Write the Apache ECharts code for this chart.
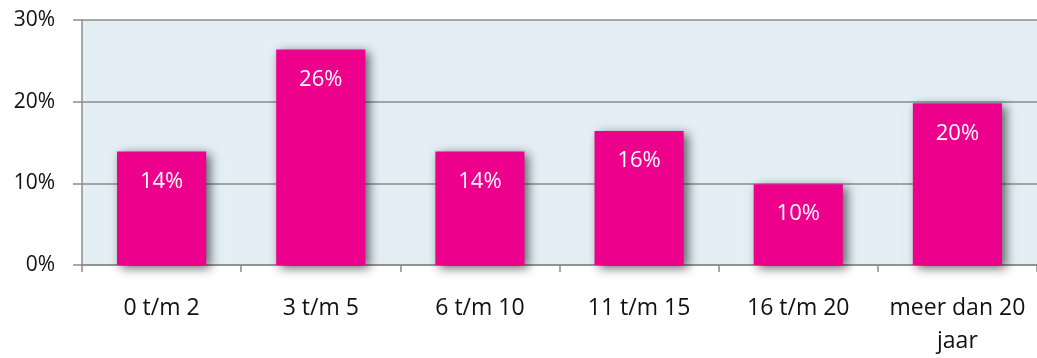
<!DOCTYPE html>
<html>
<head>
<meta charset="utf-8">
<script src="https://cdn.jsdelivr.net/npm/echarts@6/dist/echarts.min.js"></script>
<style>
  html, body { margin: 0; padding: 0; background: #fff; overflow: hidden; }
  #chart { width: 1037px; height: 358px; }
</style>
</head>
<body>
<div id="chart"></div>
<script>
const categories = ['0 t/m 2', '3 t/m 5', '6 t/m 10', '11 t/m 15', '16 t/m 20', 'meer dan 20\njaar']
const shares = [13.9, 26.4, 13.9, 16.4, 9.9, 19.8]
const shareLabels = ['14%', '26%', '14%', '16%', '10%', '20%']
const yTicks = [0, 10, 20, 30]

const font = '"Open Sans", "Liberation Sans", sans-serif'
const grey = '#8c8c8c'

const chart = echarts.init(document.getElementById('chart'), undefined, { renderer: 'canvas' })

chart.setOption({
  animation: false,
  grid: {
    left: 82, right: -5, top: 20, height: 248,
    show: true,
    backgroundColor: '#e3eef5',
    borderWidth: 0,
  },
  xAxis: {
    type: 'category',
    data: categories,
    axisLine: { lineStyle: { color: grey, width: 1.5 } },
    axisTick: { show: true, length: 7, lineStyle: { color: grey, width: 1.5 } },
    axisLabel: {
      color: '#111', fontSize: 23, fontFamily: font,
      margin: 27, lineHeight: 33, interval: 0,
    },
  },
  yAxis: {
    type: 'value',
    min: yTicks[0],
    max: yTicks[yTicks.length - 1],
    interval: 10,
    axisLine: { show: true, lineStyle: { color: grey, width: 1.5 } },
    axisTick: { show: true, length: 9, lineStyle: { color: grey, width: 1.5 } },
    splitLine: { lineStyle: { color: grey, width: 1.5 } },
    axisLabel: {
      color: '#111', fontSize: 21, fontFamily: font, margin: 27,
      formatter: v => v + '%',
    },
  },
  series: [{
    type: 'bar',
    data: shares,
    barCategoryGap: '44%',
    itemStyle: {
      color: '#ec008c',
      shadowColor: 'rgba(0,0,0,0.6)',
      shadowBlur: 10,
      shadowOffsetX: 4,
      shadowOffsetY: 3,
    },
    label: {
      show: true,
      position: 'insideTop',
      distance: 19,
      color: '#fff',
      fontSize: 22,
      fontFamily: font,
      formatter: p => shareLabels[p.dataIndex],
    },
  }],
})
</script>
</body>
</html>
